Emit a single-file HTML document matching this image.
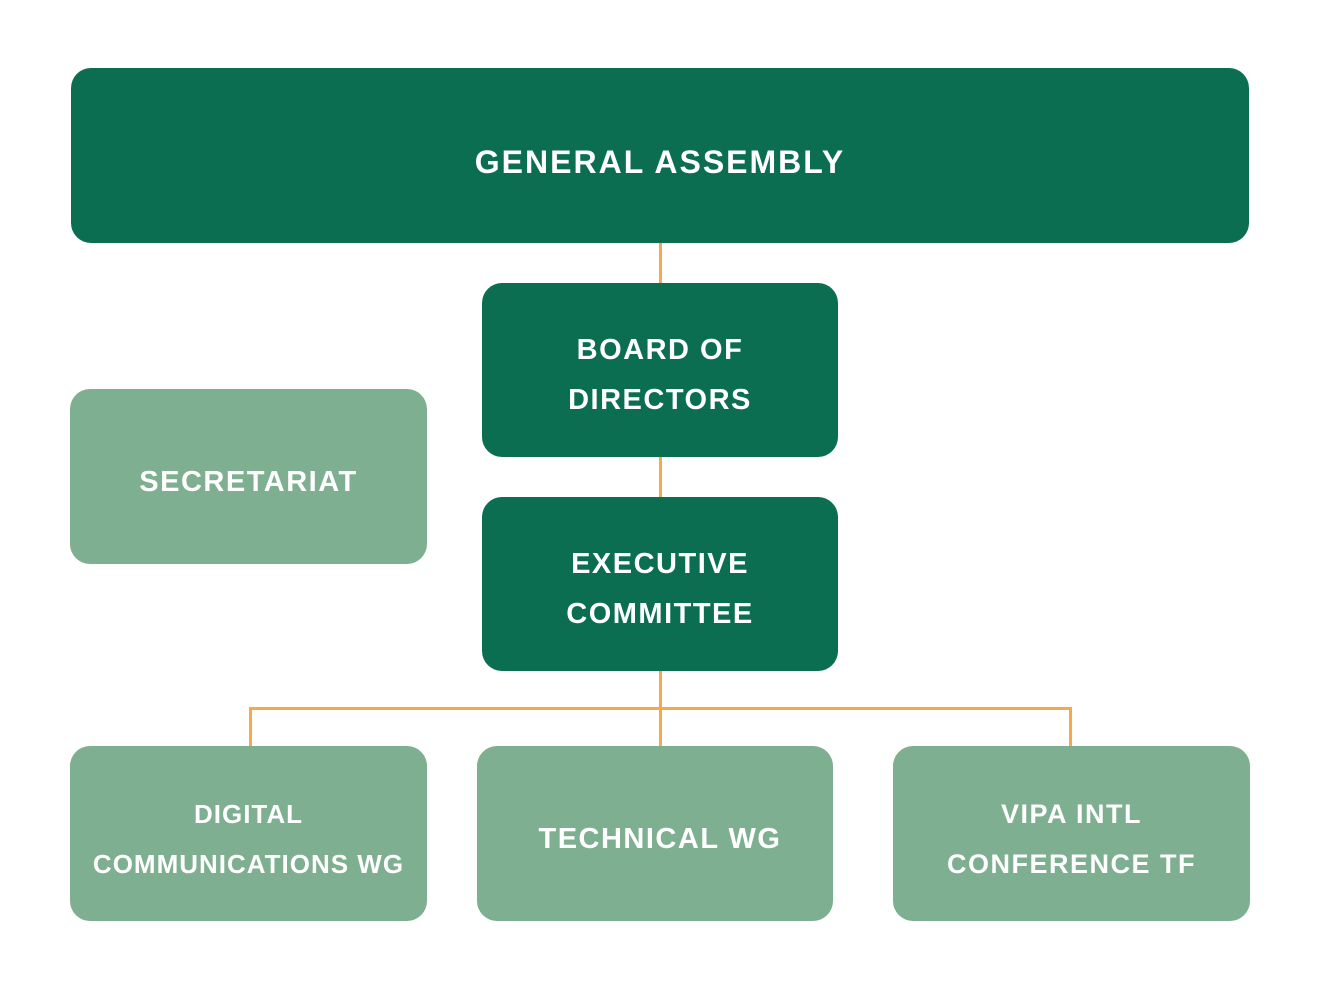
<!DOCTYPE html>
<html><head><meta charset="utf-8"><style>
html,body{margin:0;padding:0;background:#fff;}
body{width:1320px;height:990px;position:relative;overflow:hidden;font-family:"Liberation Sans",sans-serif;}
.b{position:absolute;border-radius:20px;color:#fff;display:flex;align-items:center;justify-content:center;text-align:center;font-weight:bold;font-size:29px;line-height:50px;letter-spacing:1.5px;box-sizing:border-box;padding-top:10px;}
.d{background:#0b6e50;}
.l{background:#7faf91;}
.ln{position:absolute;background:#f6a84a;}
</style></head><body>
<div class="ln" style="left:659px;top:240px;width:3px;height:510px;"></div>
<div class="ln" style="left:249px;top:707px;width:823px;height:3px;"></div>
<div class="ln" style="left:249px;top:707px;width:3px;height:42px;"></div>
<div class="ln" style="left:1069px;top:707px;width:3px;height:42px;"></div>

<div class="b d" style="left:71px;top:68px;width:1178px;height:175px;font-size:32px;letter-spacing:2px;padding-top:12px;">GENERAL ASSEMBLY</div>
<div class="b d" style="left:482px;top:283px;width:356px;height:174px;">BOARD OF<br>DIRECTORS</div>
<div class="b l" style="left:70px;top:389px;width:357px;height:175px;">SECRETARIAT</div>
<div class="b d" style="left:482px;top:497px;width:356px;height:174px;">EXECUTIVE<br>COMMITTEE</div>
<div class="b l" style="left:70px;top:746px;width:357px;height:175px;font-size:26px;letter-spacing:1px;">DIGITAL<br>COMMUNICATIONS WG</div>
<div class="b l" style="left:477px;top:746px;width:356px;height:175px;padding-left:10px;">TECHNICAL WG</div>
<div class="b l" style="left:893px;top:746px;width:357px;height:175px;font-size:27px;">VIPA INTL<br>CONFERENCE TF</div>
</body></html>
